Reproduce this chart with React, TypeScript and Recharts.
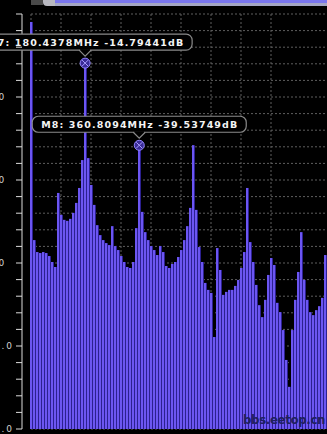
import { BarChart, Bar, XAxis, YAxis, CartesianGrid, ReferenceDot } from 'recharts'

// spectrum bins, 10 MHz apart
const FREQ_MHZ = [
  0, 10, 20, 30, 40, 50, 60, 70, 80, 90,
  100, 110, 120, 130, 140, 150, 160, 170, 180, 190,
  200, 210, 220, 230, 240, 250, 260, 270, 280, 290,
  300, 310, 320, 330, 340, 350, 360, 370, 380, 390,
  400, 410, 420, 430, 440, 450, 460, 470, 480, 490,
  500, 510, 520, 530, 540, 550, 560, 570, 580, 590,
  600, 610, 620, 630, 640, 650, 660, 670, 680, 690,
  700, 710, 720, 730, 740, 750, 760, 770, 780, 790,
  800, 810, 820, 830, 840, 850, 860, 870, 880, 890,
  900, 910, 920, 930, 940, 950, 960, 970, 980, 990
]

const LEVEL_DB = [
  -2.4, -68.1, -71.7, -72.0, -71.7, -72.0, -72.9, -74.7, -76.2, -53.9,
  -60.5, -62.0, -62.3, -61.7, -59.9, -56.9, -52.4, -44.0, -14.8, -43.4,
  -51.5, -57.5, -63.6, -66.6, -68.1, -69.0, -69.6, -63.9, -69.9, -71.1,
  -72.9, -74.7, -76.2, -76.5, -74.7, -64.5, -39.5, -59.6, -65.7, -68.1,
  -69.9, -71.1, -72.6, -69.9, -71.7, -75.9, -76.5, -75.3, -74.7, -73.2,
  -71.1, -68.1, -63.9, -58.4, -39.5, -59.0, -70.2, -74.7, -81.0, -83.1,
  -84.0, -97.3, -70.5, -77.1, -84.6, -83.7, -83.1, -83.1, -81.9, -80.1,
  -76.5, -71.7, -52.4, -68.7, -74.7, -81.6, -87.7, -91.3, -86.1, -78.6,
  -73.5, -75.6, -87.0, -89.8, -95.2, -104.2, -112.3, -95.2, -86.1, -77.7,
  -65.7, -80.1, -86.1, -89.8, -90.7, -89.2, -88.0, -85.5, -72.6, -80.1
]

const FLOOR_DB = -125
const DB_TICKS = [
  0, -5, -10, -15, -20, -25, -30, -35, -40, -45, -50, -55, -60,
  -65, -70, -75, -80, -85, -90, -95, -100, -105, -110, -115, -120, -125
]
const MHZ_TICKS = [0, 100, 200, 300, 400, 500, 600, 700, 800, 900, 1000]

const MARKER_IDS = ['M7', 'M8']
const MARKER_MHZ = [180.4378, 360.8094]
const MARKER_DB = [-14.79441, -39.53749]

const data = FREQ_MHZ.map((mhz, i) => ({ mhz, db: LEVEL_DB[i] }))

const BAR = '#6c56f2'
const GAP = '#2c2090'

function SpectrumBar(props: any) {
  const { x, y, height } = props
  if (!height || height <= 0) return null
  const left = Math.round(x)
  return (
    <g>
      <rect x={left} y={y} width={2} height={height} fill={BAR} />
      <rect x={left + 2} y={y} width={1} height={height} fill={GAP} />
    </g>
  )
}

function DbTick(props: any) {
  const { y, payload } = props
  const v = payload.value as number
  return (
    <g>
      <line x1={16} x2={22} y1={y} y2={y} stroke='#dcdcdc' />
      {v % 25 === 0 && (
        <text
          x={-27}
          y={y}
          dy={3}
          fill='#d0d0d0'
          fontSize={9}
          letterSpacing={2}
          fontFamily='DejaVu Sans'
        >
          {v.toFixed(1)}
        </text>
      )}
    </g>
  )
}

function MarkerShape(props: any) {
  const { cx, cy, text } = props
  const w = 214
  return (
    <g>
      <rect x={cx - w / 2} y={cy - 29} width={w} height={16} rx={6} fill='#000' stroke='#8a8a8a' strokeWidth={1.2} />
      <rect x={cx - 5} y={cy - 14} width={10} height={2.5} fill='#000' />
      <path d={`M${cx - 6},${cy - 13} L${cx},${cy - 7} L${cx + 6},${cy - 13}`} fill='none' stroke='#8a8a8a' strokeWidth={1.2} />
      <text
        x={cx}
        y={cy - 17.5}
        textAnchor='middle'
        fill='#f4f4f4'
        fontSize={9.5}
        fontWeight='bold'
        fontFamily='DejaVu Sans'
        textLength={196}
        lengthAdjust='spacing'
      >
        {text}
      </text>
      <circle cx={cx} cy={cy} r={5} fill='#3a2c98' stroke='#9284ff' strokeWidth={1} />
      <path d={`M${cx - 3},${cy - 3} L${cx + 3},${cy + 3} M${cx + 3},${cy - 3} L${cx - 3},${cy + 3}`} stroke='#aa9eff' strokeWidth={1} />
    </g>
  )
}

export default function App() {
  return (
    <div style={{ position: 'relative', width: 327, height: 434, overflow: 'hidden', background: '#000' }}>
      <style>{'body{margin:0;background:#000}'}</style>
      <div style={{ position: 'absolute', left: 31, top: 0, width: 12, height: 5, background: '#4a4a4a' }} />
      <div style={{ position: 'absolute', left: 43, top: 0, width: 14, height: 6, background: '#b8b8c0', borderBottomLeftRadius: 4 }} />
      <div style={{ position: 'absolute', left: 55, top: 0, width: 272, height: 3, background: '#7a76ee' }} />
      <div style={{ position: 'absolute', left: 55, top: 3, width: 272, height: 3, background: '#a4a6c4' }} />
      <BarChart
        width={340}
        height={434}
        data={data}
        margin={{ top: 14, right: 9, bottom: 5, left: 0 }}
        barSize={3}
      >
        <CartesianGrid stroke='#5e5e5e' strokeDasharray='2 2' />
        <XAxis dataKey='mhz' type='number' domain={[0, 1000]} ticks={MHZ_TICKS} hide />
        <YAxis
          type='number'
          domain={[FLOOR_DB, 0]}
          ticks={DB_TICKS}
          interval={0}
          width={31}
          tickLine={false}
          axisLine={{ stroke: '#dcdcdc', transform: 'translate(-9, 0)' }}
          tick={<DbTick />}
        />
        <Bar
          dataKey={(d: any) => [FLOOR_DB, d.db]}
          shape={<SpectrumBar />}
          isAnimationActive={false}
        />
        {MARKER_IDS.map((id, i) => (
          <ReferenceDot
            key={id}
            x={MARKER_MHZ[i]}
            y={MARKER_DB[i]}
            r={5}
            shape={(p: any) => (
              <MarkerShape
                {...p}
                text={`${id}: ${MARKER_MHZ[i].toFixed(4)}MHz ${MARKER_DB[i].toFixed(5)}dB`}
              />
            )}
          />
        ))}
      </BarChart>
      <div
        style={{
          position: 'absolute',
          left: 243,
          top: 412,
          width: 84,
          fontFamily: 'DejaVu Sans Condensed, DejaVu Sans',
          fontWeight: 'bold',
          fontSize: 13,
          color: '#20205e',
          whiteSpace: 'nowrap',
          letterSpacing: -0.3
        }}
      >
        bbs.eetop.cn
      </div>
    </div>
  )
}
